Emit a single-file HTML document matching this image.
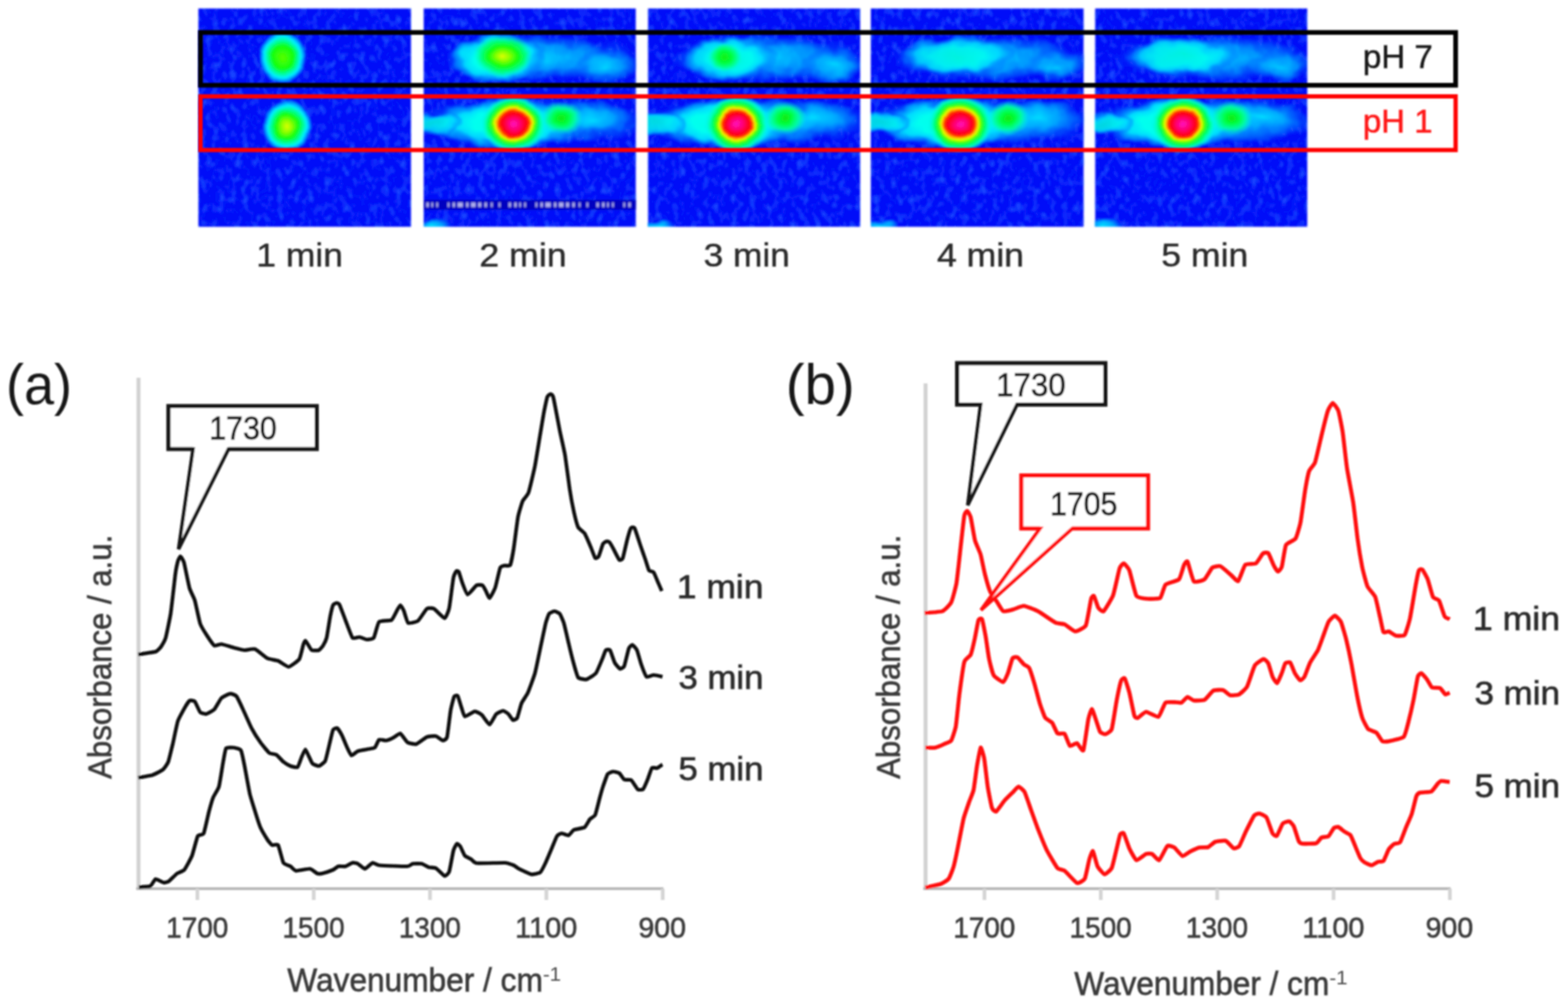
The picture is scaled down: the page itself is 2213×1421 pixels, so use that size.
<!DOCTYPE html>
<html lang="en"><head><meta charset="utf-8"><title>FTIR imaging figure</title>
<style>
html,body{margin:0;padding:0;background:#fff;}
body{width:2213px;height:1421px;overflow:hidden;}
svg{display:block;}
text{font-family:"Liberation Sans",sans-serif;}
</style></head><body>
<svg width="2213" height="1421" viewBox="0 0 2213 1421">
<defs>
<radialGradient id="gG"><stop offset="0" stop-color="#58ff00"/><stop offset="0.42" stop-color="#10ff10"/><stop offset="0.6" stop-color="#00ff90"/><stop offset="0.76" stop-color="#00f0ff"/><stop offset="0.88" stop-color="#00a0ff" stop-opacity="0.85"/><stop offset="1" stop-color="#0040ff" stop-opacity="0"/></radialGradient>
<radialGradient id="gY"><stop offset="0" stop-color="#d8ff00"/><stop offset="0.2" stop-color="#90ff00"/><stop offset="0.45" stop-color="#10ff10"/><stop offset="0.63" stop-color="#00ff90"/><stop offset="0.78" stop-color="#00f0ff"/><stop offset="0.9" stop-color="#00a0ff" stop-opacity="0.8"/><stop offset="1" stop-color="#0040ff" stop-opacity="0"/></radialGradient>
<radialGradient id="gY2"><stop offset="0" stop-color="#e0ff00"/><stop offset="0.22" stop-color="#90ff00"/><stop offset="0.5" stop-color="#10ff10"/><stop offset="0.75" stop-color="#00ff80" stop-opacity="0.9"/><stop offset="1" stop-color="#00ffd0" stop-opacity="0"/></radialGradient>
<radialGradient id="gG2"><stop offset="0" stop-color="#10f010"/><stop offset="0.4" stop-color="#00ff40"/><stop offset="0.7" stop-color="#00ff90" stop-opacity="0.9"/><stop offset="1" stop-color="#00ffd0" stop-opacity="0"/></radialGradient>
<radialGradient id="gR"><stop offset="0" stop-color="#ff10c0"/><stop offset="0.2" stop-color="#ff0070"/><stop offset="0.38" stop-color="#ff0010"/><stop offset="0.46" stop-color="#ff3000"/><stop offset="0.52" stop-color="#ffb000"/><stop offset="0.57" stop-color="#e0ff00"/><stop offset="0.64" stop-color="#50ff00"/><stop offset="0.74" stop-color="#00ff50"/><stop offset="0.86" stop-color="#00ffc0" stop-opacity="0.95"/><stop offset="1" stop-color="#00f0ff" stop-opacity="0"/></radialGradient>
<radialGradient id="gS"><stop offset="0" stop-color="#10e810"/><stop offset="0.35" stop-color="#00ff40"/><stop offset="0.65" stop-color="#00ffa0" stop-opacity="0.95"/><stop offset="1" stop-color="#00ffe0" stop-opacity="0"/></radialGradient>
<radialGradient id="gC"><stop offset="0" stop-color="#00ffd8"/><stop offset="0.45" stop-color="#00fff0"/><stop offset="0.68" stop-color="#00e0ff" stop-opacity="0.95"/><stop offset="0.85" stop-color="#0090ff" stop-opacity="0.7"/><stop offset="1" stop-color="#0040ff" stop-opacity="0"/></radialGradient>
<radialGradient id="gC2"><stop offset="0" stop-color="#00e4ff" stop-opacity="1"/><stop offset="0.5" stop-color="#00b4ff" stop-opacity="0.88"/><stop offset="0.8" stop-color="#0070ff" stop-opacity="0.55"/><stop offset="1" stop-color="#0040ff" stop-opacity="0"/></radialGradient>
<filter id="noise" x="0" y="0" width="100%" height="100%" color-interpolation-filters="sRGB"><feTurbulence type="fractalNoise" baseFrequency="0.12 0.08" numOctaves="2" seed="7" result="t"/><feColorMatrix in="t" type="matrix" values="0 0 0 0 0.08  0 0 0 0 0.27  0 0 0 0 1  3 0 0 0 -1.38"/></filter>
<filter id="wob" x="-5%" y="-5%" width="110%" height="110%" color-interpolation-filters="sRGB"><feTurbulence type="fractalNoise" baseFrequency="0.035 0.05" numOctaves="2" seed="11" result="n"/><feDisplacementMap in="SourceGraphic" in2="n" scale="16" xChannelSelector="R" yChannelSelector="G"/></filter>
<filter id="wob2" x="-5%" y="-5%" width="110%" height="110%" color-interpolation-filters="sRGB"><feTurbulence type="fractalNoise" baseFrequency="0.04 0.05" numOctaves="1" seed="3" result="n"/><feDisplacementMap in="SourceGraphic" in2="n" scale="5" xChannelSelector="R" yChannelSelector="G"/></filter>
<filter id="soft"><feGaussianBlur stdDeviation="1.0"/></filter>
<filter id="soft2"><feGaussianBlur stdDeviation="1.6"/></filter>

<clipPath id="cp0"><rect x="280" y="12" width="300" height="308"/></clipPath>
<clipPath id="cp1"><rect x="598" y="12" width="299.5" height="308"/></clipPath>
<clipPath id="cp2"><rect x="914.5" y="12" width="299.5" height="308"/></clipPath>
<clipPath id="cp3"><rect x="1229" y="12" width="300.5" height="308"/></clipPath>
<clipPath id="cp4"><rect x="1545.5" y="12" width="299.5" height="308"/></clipPath>
</defs>
<rect width="2213" height="1421" fill="#ffffff"/>
<g filter="url(#soft2)">
<g clip-path="url(#cp0)">
<rect x="280" y="12" width="300" height="308" fill="#0008f8"/>
<rect x="280" y="12" width="300" height="308" filter="url(#noise)"/>
<g filter="url(#wob)">
</g>
<g filter="url(#wob2)">
<ellipse cx="399" cy="81" rx="34" ry="38" fill="url(#gG)" opacity="1"/>
<ellipse cx="405" cy="178" rx="35" ry="38" fill="url(#gY)" opacity="1"/>
</g>
</g>
<g clip-path="url(#cp1)">
<rect x="598" y="12" width="299.5" height="308" fill="#0008f8"/>
<rect x="598" y="12" width="299.5" height="308" filter="url(#noise)"/>
<g filter="url(#wob)">
<ellipse cx="763" cy="82" rx="140" ry="33" fill="url(#gC2)" opacity="0.9"/>
<ellipse cx="856" cy="93" rx="48" ry="24" fill="url(#gC2)" opacity="0.9"/>
<ellipse cx="701" cy="82" rx="70" ry="36" fill="url(#gC)" opacity="1"/>
<ellipse cx="748" cy="172" rx="175" ry="34" fill="url(#gC2)" opacity="0.9"/>
<ellipse cx="713" cy="174" rx="102" ry="35" fill="url(#gC)" opacity="1"/>
<ellipse cx="610" cy="174" rx="44" ry="16" fill="url(#gC)" opacity="0.8"/>
<ellipse cx="835" cy="166" rx="62" ry="25" fill="url(#gC2)" opacity="0.9"/>
<ellipse cx="612" cy="319" rx="26" ry="9" fill="url(#gC2)" opacity="1"/>
</g>
<g filter="url(#wob2)">
<ellipse cx="710" cy="79" rx="42" ry="30" fill="url(#gY2)" opacity="1"/>
<ellipse cx="793" cy="167" rx="30" ry="24" fill="url(#gS)" opacity="1"/>
<ellipse cx="725" cy="175" rx="46" ry="40" fill="url(#gR)" opacity="1"/>
</g>
<rect x="598" y="282" width="299.5" height="14" fill="#0606c0"/>
<line x1="600" y1="289" x2="893.5" y2="289" stroke="#f0f0ff" stroke-width="6" stroke-dasharray="3 4 2 5 2 14 2 5 3 4 7 5 3 4 6 4 4 5 3 6 2 9 2 12 3 5" stroke-dashoffset="-2" opacity="0.72"/>
</g>
<g clip-path="url(#cp2)">
<rect x="914.5" y="12" width="299.5" height="308" fill="#0008f8"/>
<rect x="914.5" y="12" width="299.5" height="308" filter="url(#noise)"/>
<g filter="url(#wob)">
<ellipse cx="1079.5" cy="82" rx="140" ry="33" fill="url(#gC2)" opacity="0.9"/>
<ellipse cx="1176.5" cy="93" rx="48" ry="24" fill="url(#gC2)" opacity="0.9"/>
<ellipse cx="1029.5" cy="82" rx="68" ry="33" fill="url(#gC)" opacity="0.92"/>
<ellipse cx="1064.5" cy="172" rx="175" ry="34" fill="url(#gC2)" opacity="0.9"/>
<ellipse cx="1028.0" cy="174" rx="102" ry="35" fill="url(#gC)" opacity="1"/>
<ellipse cx="926.5" cy="174" rx="44" ry="16" fill="url(#gC)" opacity="0.8"/>
<ellipse cx="1150.0" cy="166" rx="62" ry="25" fill="url(#gC2)" opacity="0.9"/>
<ellipse cx="928.5" cy="319" rx="26" ry="9" fill="url(#gC2)" opacity="1"/>
</g>
<g filter="url(#wob2)">
<ellipse cx="1022.5" cy="81" rx="24" ry="21" fill="url(#gG2)" opacity="1"/>
<ellipse cx="1108.0" cy="167" rx="30" ry="24" fill="url(#gS)" opacity="1"/>
<ellipse cx="1040.0" cy="175" rx="46" ry="40" fill="url(#gR)" opacity="1"/>
</g>
</g>
<g clip-path="url(#cp3)">
<rect x="1229" y="12" width="300.5" height="308" fill="#0008f8"/>
<rect x="1229" y="12" width="300.5" height="308" filter="url(#noise)"/>
<g filter="url(#wob)">
<ellipse cx="1394" cy="82" rx="140" ry="33" fill="url(#gC2)" opacity="0.9"/>
<ellipse cx="1491" cy="93" rx="45" ry="22" fill="url(#gC2)" opacity="0.8"/>
<ellipse cx="1351" cy="79" rx="82" ry="28" fill="url(#gC)" opacity="0.85"/>
<ellipse cx="1379" cy="172" rx="175" ry="34" fill="url(#gC2)" opacity="0.9"/>
<ellipse cx="1343" cy="174" rx="102" ry="35" fill="url(#gC)" opacity="1"/>
<ellipse cx="1241" cy="174" rx="44" ry="16" fill="url(#gC)" opacity="0.8"/>
<ellipse cx="1465" cy="166" rx="62" ry="25" fill="url(#gC2)" opacity="0.9"/>
<ellipse cx="1243" cy="319" rx="26" ry="9" fill="url(#gC2)" opacity="1"/>
</g>
<g filter="url(#wob2)">
<ellipse cx="1423" cy="167" rx="30" ry="24" fill="url(#gS)" opacity="1"/>
<ellipse cx="1355" cy="175" rx="46" ry="40" fill="url(#gR)" opacity="1"/>
</g>
</g>
<g clip-path="url(#cp4)">
<rect x="1545.5" y="12" width="299.5" height="308" fill="#0008f8"/>
<rect x="1545.5" y="12" width="299.5" height="308" filter="url(#noise)"/>
<g filter="url(#wob)">
<ellipse cx="1710.5" cy="82" rx="140" ry="33" fill="url(#gC2)" opacity="0.9"/>
<ellipse cx="1807.5" cy="93" rx="45" ry="22" fill="url(#gC2)" opacity="0.8"/>
<ellipse cx="1667.5" cy="79" rx="82" ry="28" fill="url(#gC)" opacity="0.85"/>
<ellipse cx="1695.5" cy="172" rx="175" ry="34" fill="url(#gC2)" opacity="0.9"/>
<ellipse cx="1658.0" cy="174" rx="102" ry="35" fill="url(#gC)" opacity="1"/>
<ellipse cx="1557.5" cy="174" rx="44" ry="16" fill="url(#gC)" opacity="0.8"/>
<ellipse cx="1780.0" cy="166" rx="62" ry="25" fill="url(#gC2)" opacity="0.9"/>
<ellipse cx="1559.5" cy="319" rx="26" ry="9" fill="url(#gC2)" opacity="1"/>
</g>
<g filter="url(#wob2)">
<ellipse cx="1738.0" cy="167" rx="30" ry="24" fill="url(#gS)" opacity="1"/>
<ellipse cx="1670.0" cy="175" rx="46" ry="40" fill="url(#gR)" opacity="1"/>
</g>
</g>
</g>
<g filter="url(#soft)">
<rect x="283" y="45.8" width="1771.4" height="74.5" fill="none" stroke="#000000" stroke-width="6.6"/>
<rect x="283" y="136" width="1771.4" height="75.7" fill="none" stroke="#ff0000" stroke-width="6"/>
</g>
<g filter="url(#soft)">
<text x="361.7" y="376.2" font-size="46" fill="#2a2a2a" stroke="#2a2a2a" stroke-width="0.55" textLength="122.3" lengthAdjust="spacingAndGlyphs">1 min</text>
<text x="676.6" y="376.2" font-size="46" fill="#2a2a2a" stroke="#2a2a2a" stroke-width="0.55" textLength="123.2" lengthAdjust="spacingAndGlyphs">2 min</text>
<text x="992.9" y="376.2" font-size="46" fill="#2a2a2a" stroke="#2a2a2a" stroke-width="0.55" textLength="121.9" lengthAdjust="spacingAndGlyphs">3 min</text>
<text x="1322.4" y="376.2" font-size="46" fill="#2a2a2a" stroke="#2a2a2a" stroke-width="0.55" textLength="122.9" lengthAdjust="spacingAndGlyphs">4 min</text>
<text x="1638.9" y="376.2" font-size="46" fill="#2a2a2a" stroke="#2a2a2a" stroke-width="0.55" textLength="122.9" lengthAdjust="spacingAndGlyphs">5 min</text>
<text x="1923.4" y="95.9" font-size="46" fill="#181818" stroke="#181818" stroke-width="0.55" textLength="98.8" lengthAdjust="spacingAndGlyphs">pH 7</text>
<text x="1923.4" y="186.9" font-size="46" fill="#ff1414" stroke="#ff1414" stroke-width="0.55" textLength="98.5" lengthAdjust="spacingAndGlyphs">pH 1</text>
<text x="8.6" y="569.5" font-size="79" fill="#141414" textLength="93.0" lengthAdjust="spacingAndGlyphs">(a)</text>
<text x="1109.0" y="570.0" font-size="79" fill="#141414" textLength="97.4" lengthAdjust="spacingAndGlyphs">(b)</text>
<line x1="195.5" y1="533" x2="195.5" y2="1255.5" stroke="#d2d2d2" stroke-width="5.6"/>
<line x1="192.2" y1="1254" x2="936.3" y2="1254" stroke="#b8b8b8" stroke-width="3.8"/>
<line x1="278.6" y1="1254" x2="278.6" y2="1270" stroke="#d4d4d4" stroke-width="5.2"/>
<text x="234.6" y="1323.3" font-size="40.5" fill="#3c3c3c" stroke="#3c3c3c" stroke-width="0.8" textLength="87.6" lengthAdjust="spacingAndGlyphs">1700</text>
<line x1="442.8" y1="1254" x2="442.8" y2="1270" stroke="#d4d4d4" stroke-width="5.2"/>
<text x="398.7" y="1323.3" font-size="40.5" fill="#3c3c3c" stroke="#3c3c3c" stroke-width="0.8" textLength="87.6" lengthAdjust="spacingAndGlyphs">1500</text>
<line x1="606.9" y1="1254" x2="606.9" y2="1270" stroke="#d4d4d4" stroke-width="5.2"/>
<text x="562.9" y="1323.3" font-size="40.5" fill="#3c3c3c" stroke="#3c3c3c" stroke-width="0.8" textLength="87.6" lengthAdjust="spacingAndGlyphs">1300</text>
<line x1="771.1" y1="1254" x2="771.1" y2="1270" stroke="#d4d4d4" stroke-width="5.2"/>
<text x="727.0" y="1323.3" font-size="40.5" fill="#3c3c3c" stroke="#3c3c3c" stroke-width="0.8" textLength="87.8" lengthAdjust="spacingAndGlyphs">1100</text>
<line x1="935.3" y1="1254" x2="935.3" y2="1270" stroke="#d4d4d4" stroke-width="5.2"/>
<text x="900.9" y="1323.3" font-size="40.5" fill="#3c3c3c" stroke="#3c3c3c" stroke-width="0.8" textLength="67.3" lengthAdjust="spacingAndGlyphs">900</text>
<text x="405.5" y="1398.8" font-size="46" fill="#3a3a3a" stroke="#3a3a3a" stroke-width="0.85" textLength="360.6" lengthAdjust="spacingAndGlyphs">Wavenumber / cm</text>
<text x="766.2" y="1383.5" font-size="27" fill="#4a4a4a" textLength="25.7" lengthAdjust="spacingAndGlyphs">-1</text>
<text transform="translate(157.2,1099.0) rotate(-90)" font-size="46" fill="#3a3a3a" stroke="#3a3a3a" stroke-width="0.85" textLength="344.4" lengthAdjust="spacingAndGlyphs">Absorbance / a.u.</text>
<line x1="1306.3" y1="541" x2="1306.3" y2="1255.5" stroke="#d2d2d2" stroke-width="5.6"/>
<line x1="1303.0" y1="1254" x2="2047.3" y2="1254" stroke="#b8b8b8" stroke-width="3.8"/>
<line x1="1389.4" y1="1254" x2="1389.4" y2="1270" stroke="#d4d4d4" stroke-width="5.2"/>
<text x="1345.4" y="1323.3" font-size="40.5" fill="#3c3c3c" stroke="#3c3c3c" stroke-width="0.8" textLength="87.6" lengthAdjust="spacingAndGlyphs">1700</text>
<line x1="1553.6" y1="1254" x2="1553.6" y2="1270" stroke="#d4d4d4" stroke-width="5.2"/>
<text x="1509.6" y="1323.3" font-size="40.5" fill="#3c3c3c" stroke="#3c3c3c" stroke-width="0.8" textLength="87.6" lengthAdjust="spacingAndGlyphs">1500</text>
<line x1="1717.9" y1="1254" x2="1717.9" y2="1270" stroke="#d4d4d4" stroke-width="5.2"/>
<text x="1673.8" y="1323.3" font-size="40.5" fill="#3c3c3c" stroke="#3c3c3c" stroke-width="0.8" textLength="87.6" lengthAdjust="spacingAndGlyphs">1300</text>
<line x1="1882.1" y1="1254" x2="1882.1" y2="1270" stroke="#d4d4d4" stroke-width="5.2"/>
<text x="1838.0" y="1323.3" font-size="40.5" fill="#3c3c3c" stroke="#3c3c3c" stroke-width="0.8" textLength="87.8" lengthAdjust="spacingAndGlyphs">1100</text>
<line x1="2046.3" y1="1254" x2="2046.3" y2="1270" stroke="#d4d4d4" stroke-width="5.2"/>
<text x="2011.9" y="1323.3" font-size="40.5" fill="#3c3c3c" stroke="#3c3c3c" stroke-width="0.8" textLength="67.3" lengthAdjust="spacingAndGlyphs">900</text>
<text x="1516.3" y="1404" font-size="46" fill="#3a3a3a" stroke="#3a3a3a" stroke-width="0.85" textLength="359.7" lengthAdjust="spacingAndGlyphs">Wavenumber / cm</text>
<text x="1876.2" y="1388.7" font-size="27" fill="#4a4a4a" textLength="25.7" lengthAdjust="spacingAndGlyphs">-1</text>
<text transform="translate(1270,1099.0) rotate(-90)" font-size="46" fill="#3a3a3a" stroke="#3a3a3a" stroke-width="0.85" textLength="344.4" lengthAdjust="spacingAndGlyphs">Absorbance / a.u.</text>
<path d="M195.0 923.5C196.0 923.4 206.1 921.8 208.0 921.5C209.9 921.2 218.6 920.1 220.0 919.5C221.4 918.9 226.0 914.5 227.0 913.0C228.0 911.5 232.7 903.6 233.8 900.0C234.8 896.4 240.0 871.8 241.0 865.0C242.0 858.2 246.8 815.5 247.5 810.0C248.2 804.5 250.5 793.9 251.0 792.0C251.5 790.1 254.0 785.1 254.5 785.0C255.0 784.9 257.6 789.2 258.0 790.0C258.4 790.8 259.3 792.0 260.0 795.0C260.7 798.0 266.4 826.1 267.5 830.0C268.6 833.9 273.9 843.8 275.0 847.5C276.1 851.2 281.2 876.2 282.5 880.0C283.8 883.8 291.0 895.2 292.5 897.5C294.0 899.8 301.0 910.1 302.5 911.0C304.0 911.9 310.4 908.8 312.5 909.0C314.6 909.2 327.6 913.4 330.0 914.0C332.4 914.6 342.8 917.4 345.0 917.5C347.2 917.6 357.6 915.1 360.0 916.0C362.4 916.9 375.1 927.8 377.5 929.0C379.9 930.2 390.2 931.6 392.5 932.5C394.8 933.4 405.2 941.2 407.5 941.0C409.8 940.8 421.0 932.3 422.5 930.0C424.0 927.7 427.4 912.0 428.0 910.0C428.6 908.0 430.5 904.0 431.0 904.0C431.5 904.0 434.3 909.0 435.0 910.0C435.7 911.0 438.9 916.9 440.0 917.5C441.1 918.1 448.8 918.0 450.0 917.5C451.2 917.0 455.2 912.3 456.0 911.0C456.8 909.7 460.2 903.1 461.0 900.0C461.8 896.9 465.3 873.5 466.0 870.0C466.7 866.5 469.4 855.4 470.0 854.0C470.6 852.6 473.8 851.1 474.5 851.0C475.2 850.9 478.0 851.2 479.0 853.0C480.0 854.8 486.1 871.5 487.5 875.0C488.9 878.5 496.0 898.2 497.5 900.0C499.0 901.8 506.0 898.8 507.5 899.0C509.0 899.2 516.0 902.4 517.5 902.5C519.0 902.6 526.2 901.9 527.5 900.0C528.8 898.1 533.1 879.4 535.0 877.5C536.9 875.6 550.6 876.2 552.5 875.0C554.4 873.8 559.1 863.6 560.0 862.0C560.9 860.4 564.2 854.0 565.0 854.0C565.8 854.0 569.2 860.1 570.0 862.0C570.8 863.9 574.5 878.0 576.0 879.0C577.5 880.0 588.0 877.5 590.0 876.0C592.0 874.5 600.8 860.3 602.5 859.0C604.2 857.7 610.6 858.0 612.5 859.0C614.4 860.0 625.9 872.6 627.5 872.5C629.1 872.4 633.1 862.3 634.0 858.0C634.9 853.7 639.2 818.9 640.0 815.0C640.8 811.1 643.4 806.6 644.0 806.0C644.6 805.4 646.9 805.8 647.5 807.0C648.1 808.2 651.6 820.1 652.5 822.5C653.4 824.9 658.5 838.7 660.0 839.0C661.5 839.3 670.9 827.0 672.5 826.0C674.1 825.0 680.1 825.5 681.0 826.0C681.9 826.5 684.2 831.1 685.0 832.5C685.8 833.9 690.0 844.3 691.0 844.0C692.0 843.7 697.9 832.2 699.0 829.0C700.1 825.8 705.0 803.3 706.0 801.0C707.0 798.7 711.0 798.3 712.0 798.0C713.0 797.7 719.0 799.3 720.0 797.5C721.0 795.7 724.2 779.1 725.0 774.0C725.8 768.9 730.1 735.0 731.0 730.0C731.9 725.0 736.4 710.1 737.5 707.5C738.6 704.9 744.7 698.8 746.0 695.0C747.3 691.2 753.8 663.7 755.0 657.5C756.2 651.3 761.5 618.3 762.5 612.5C763.5 606.7 767.2 583.9 768.0 580.0C768.8 576.1 771.8 561.8 772.5 560.0C773.2 558.2 776.4 555.9 777.0 556.0C777.6 556.1 780.0 557.1 781.0 561.0C782.0 564.9 788.8 601.4 790.0 607.5C791.2 613.6 796.5 636.3 797.5 642.5C798.5 648.7 803.1 684.0 804.0 690.0C804.9 696.0 809.1 718.5 810.0 722.5C810.9 726.5 814.9 741.8 816.0 744.0C817.1 746.2 823.6 750.4 825.0 752.5C826.4 754.6 832.9 769.9 834.0 772.5C835.1 775.1 839.2 786.6 840.0 787.5C840.8 788.4 844.2 786.5 845.0 785.0C845.8 783.5 850.2 769.1 851.0 767.5C851.8 765.9 855.3 764.2 856.0 764.0C856.7 763.8 859.2 764.2 860.0 765.0C860.8 765.8 865.0 773.1 866.0 775.0C867.0 776.9 873.0 789.1 874.0 790.0C875.0 790.9 878.2 789.6 879.0 787.5C879.8 785.4 884.2 765.6 885.0 762.5C885.8 759.4 889.4 747.4 890.0 746.0C890.6 744.6 892.5 744.0 893.0 744.0C893.5 744.0 895.2 744.0 896.0 746.0C896.8 748.0 902.9 766.7 904.0 770.0C905.1 773.3 910.1 787.4 911.0 790.0C911.9 792.6 915.1 803.7 916.0 805.0C916.9 806.3 921.5 806.2 922.5 807.5C923.5 808.8 928.1 820.5 929.0 822.5C929.9 824.5 933.6 833.1 934.0 834.0" fill="none" stroke="#101010" stroke-width="5.2" stroke-linejoin="round" stroke-linecap="butt"/>
<path d="M195.0 1097.5C196.5 1097.2 212.4 1094.6 215.0 1093.8C217.6 1092.9 228.3 1087.4 230.0 1086.0C231.7 1084.6 236.5 1077.7 237.5 1075.0C238.5 1072.3 242.7 1054.3 243.8 1050.0C244.8 1045.7 249.8 1021.2 251.0 1017.5C252.2 1013.8 258.8 1002.2 260.0 1000.0C261.2 997.8 266.4 989.5 267.5 988.8C268.6 988.0 273.9 988.8 275.0 990.0C276.1 991.2 281.3 1003.7 282.5 1005.0C283.7 1006.3 289.5 1007.8 291.0 1007.5C292.5 1007.2 300.9 1002.7 302.5 1001.0C304.1 999.3 310.8 986.7 312.5 985.0C314.2 983.3 323.4 978.9 325.0 978.8C326.6 978.6 332.4 980.9 333.8 982.5C335.1 984.1 340.9 996.6 342.5 1000.0C344.1 1003.4 353.1 1023.9 355.0 1027.5C356.9 1031.1 365.6 1044.9 367.5 1047.5C369.4 1050.1 378.3 1061.2 380.0 1062.5C381.7 1063.8 388.5 1064.1 390.0 1065.0C391.5 1065.9 398.5 1073.8 400.0 1075.0C401.5 1076.2 408.5 1080.4 410.0 1081.0C411.5 1081.6 418.8 1083.5 420.0 1082.5C421.2 1081.5 425.2 1069.4 426.0 1067.5C426.8 1065.6 430.2 1057.5 431.0 1057.5C431.8 1057.5 435.2 1066.0 436.0 1067.5C436.8 1069.0 439.9 1076.5 441.0 1077.5C442.1 1078.5 448.6 1081.3 450.0 1081.0C451.4 1080.7 457.9 1076.1 459.0 1073.8C460.1 1071.4 464.2 1053.3 465.0 1050.0C465.8 1046.7 469.2 1031.7 470.0 1030.0C470.8 1028.3 475.1 1026.9 476.0 1027.5C476.9 1028.1 481.4 1035.4 482.5 1037.5C483.6 1039.6 489.0 1052.9 490.0 1055.0C491.0 1057.1 494.9 1065.6 496.0 1066.0C497.1 1066.4 503.4 1060.6 505.0 1060.0C506.6 1059.4 515.7 1057.9 517.5 1057.5C519.3 1057.1 527.7 1056.0 529.0 1055.0C530.3 1054.0 533.8 1044.5 535.0 1043.8C536.2 1043.0 543.5 1045.2 545.0 1045.0C546.5 1044.8 553.5 1041.8 555.0 1041.0C556.5 1040.2 563.5 1034.5 565.0 1035.0C566.5 1035.5 573.3 1046.4 575.0 1047.5C576.7 1048.6 585.4 1050.6 587.5 1050.0C589.6 1049.4 600.4 1040.8 602.5 1040.0C604.6 1039.2 613.3 1038.4 615.0 1038.8C616.7 1039.1 623.8 1044.9 625.0 1045.0C626.2 1045.1 630.2 1043.2 631.0 1040.0C631.8 1036.8 635.2 1006.8 636.0 1002.5C636.8 998.2 640.2 984.5 641.0 983.0C641.8 981.5 645.2 980.9 646.0 982.0C646.8 983.1 650.2 995.3 651.0 997.5C651.8 999.7 654.6 1010.5 656.0 1011.0C657.4 1011.5 668.2 1003.9 670.0 1003.8C671.8 1003.6 678.4 1007.3 680.0 1008.8C681.6 1010.2 689.5 1022.6 691.0 1022.5C692.5 1022.4 698.6 1009.5 700.0 1008.0C701.4 1006.5 708.7 1003.0 710.0 1003.0C711.3 1003.0 716.5 1006.5 717.5 1007.5C718.5 1008.5 723.1 1015.6 724.0 1016.0C724.9 1016.4 729.1 1014.8 730.0 1013.0C730.9 1011.2 734.9 995.2 736.0 992.5C737.1 989.8 743.6 980.7 745.0 977.5C746.4 974.3 753.7 954.7 755.0 950.0C756.3 945.3 761.4 920.2 762.5 915.0C763.6 909.8 769.1 883.7 770.0 880.0C770.9 876.3 774.1 867.3 775.0 866.0C775.9 864.7 781.4 862.5 782.5 862.5C783.6 862.5 789.0 864.7 790.0 866.0C791.0 867.3 795.1 876.9 796.0 880.0C796.9 883.1 801.5 903.2 802.5 907.5C803.5 911.8 809.0 933.9 810.0 937.5C811.0 941.1 814.7 954.4 816.0 956.0C817.3 957.6 825.6 959.2 827.5 958.8C829.4 958.3 839.3 952.2 841.0 950.0C842.7 947.8 849.0 932.4 850.0 930.0C851.0 927.6 854.2 918.4 855.0 917.5C855.8 916.6 860.1 916.2 861.0 917.5C861.9 918.8 866.5 933.0 867.5 935.0C868.5 937.0 874.0 943.4 875.0 943.8C876.0 944.1 880.1 942.2 881.0 940.0C881.9 937.8 886.6 917.2 887.5 915.0C888.4 912.8 891.6 909.8 892.5 910.0C893.4 910.2 898.1 915.4 899.0 917.5C899.9 919.6 904.0 934.7 905.0 937.5C906.0 940.3 911.2 953.9 912.5 955.0C913.8 956.1 920.8 952.5 922.5 952.5C924.2 952.5 934.1 954.8 935.0 955.0" fill="none" stroke="#101010" stroke-width="5.2" stroke-linejoin="round" stroke-linecap="butt"/>
<path d="M196.0 1251.8C197.2 1251.7 210.2 1251.3 212.0 1250.5C213.8 1249.7 218.1 1240.9 219.5 1240.5C220.9 1240.1 229.6 1245.3 231.0 1245.5C232.4 1245.7 236.6 1244.7 238.0 1243.8C239.4 1242.8 248.3 1233.7 250.0 1232.5C251.7 1231.3 258.4 1229.4 260.0 1227.5C261.6 1225.6 269.6 1211.1 271.0 1207.5C272.4 1203.9 277.8 1182.4 279.0 1180.0C280.2 1177.6 286.3 1178.6 287.5 1176.0C288.7 1173.4 294.0 1148.8 295.0 1145.0C296.0 1141.2 299.9 1127.6 301.0 1125.0C302.1 1122.4 307.9 1113.8 309.0 1110.0C310.1 1106.2 314.2 1079.0 315.0 1075.0C315.8 1071.0 317.9 1057.5 319.0 1056.0C320.1 1054.5 328.4 1054.8 330.0 1055.0C331.6 1055.2 338.9 1056.9 340.0 1058.8C341.1 1060.6 344.1 1075.4 345.0 1080.0C345.9 1084.6 351.4 1115.1 352.5 1120.0C353.6 1124.9 358.9 1141.4 360.0 1145.0C361.1 1148.6 366.2 1164.5 367.5 1167.5C368.8 1170.5 376.3 1183.1 377.5 1185.0C378.7 1186.9 382.9 1191.9 384.0 1192.5C385.1 1193.1 391.3 1190.6 392.5 1192.5C393.7 1194.4 398.7 1215.2 400.0 1217.5C401.3 1219.8 408.7 1221.7 410.0 1222.5C411.3 1223.3 415.4 1228.5 417.5 1228.8C419.6 1229.0 435.2 1225.7 437.5 1226.0C439.8 1226.3 446.2 1232.0 447.5 1232.5C448.8 1233.0 453.3 1232.9 455.0 1232.5C456.7 1232.1 468.3 1228.2 470.0 1227.5C471.7 1226.8 476.2 1222.9 477.5 1222.5C478.8 1222.1 486.0 1222.9 487.5 1222.5C489.0 1222.1 496.2 1217.8 497.5 1217.5C498.8 1217.2 503.7 1218.1 505.0 1218.8C506.3 1219.4 513.4 1226.1 515.0 1226.0C516.6 1225.9 524.5 1217.9 526.0 1217.5C527.5 1217.1 531.3 1220.6 535.0 1221.0C538.7 1221.4 571.4 1222.7 575.0 1222.5C578.6 1222.3 581.0 1219.0 582.5 1218.8C584.0 1218.5 593.3 1218.4 595.0 1218.8C596.7 1219.1 603.5 1223.3 605.0 1223.8C606.5 1224.2 613.3 1224.1 615.0 1225.0C616.7 1225.9 626.1 1235.6 627.5 1236.0C628.9 1236.4 633.1 1232.7 634.0 1230.0C634.9 1227.3 639.2 1203.0 640.0 1200.0C640.8 1197.0 644.2 1190.9 645.0 1190.5C645.8 1190.1 649.2 1193.7 650.0 1195.0C650.8 1196.3 654.9 1206.2 656.0 1207.5C657.1 1208.8 663.8 1211.7 665.0 1212.5C666.2 1213.3 668.9 1217.6 672.5 1218.0C676.1 1218.4 708.6 1217.3 712.5 1217.5C716.4 1217.7 723.5 1220.4 725.0 1221.0C726.5 1221.6 730.6 1225.0 732.5 1226.0C734.4 1227.0 747.8 1233.4 750.0 1233.8C752.2 1234.1 761.0 1232.2 762.5 1231.0C764.0 1229.8 768.9 1219.8 770.0 1217.5C771.1 1215.2 776.3 1202.8 777.5 1200.0C778.7 1197.2 784.9 1181.8 786.0 1180.0C787.1 1178.2 791.3 1176.1 792.5 1176.0C793.7 1175.9 801.2 1179.1 802.5 1178.8C803.8 1178.4 808.3 1171.8 810.0 1171.0C811.7 1170.2 823.3 1168.6 825.0 1167.5C826.7 1166.4 831.4 1157.3 832.5 1156.0C833.6 1154.7 839.0 1152.1 840.0 1150.0C841.0 1147.9 845.2 1130.5 846.0 1127.5C846.8 1124.5 850.1 1112.6 851.0 1110.0C851.9 1107.4 856.5 1094.1 857.5 1092.5C858.5 1090.9 863.8 1088.9 865.0 1088.8C866.2 1088.6 872.8 1090.2 874.0 1091.0C875.2 1091.8 879.7 1099.2 881.0 1100.0C882.3 1100.8 889.6 1100.0 891.0 1101.0C892.4 1102.0 898.8 1112.8 900.0 1113.8C901.2 1114.7 906.5 1114.8 907.5 1113.8C908.5 1112.7 913.1 1102.2 914.0 1100.0C914.9 1097.8 919.0 1085.0 920.0 1083.8C921.0 1082.5 926.4 1084.1 927.5 1083.8C928.6 1083.4 934.4 1079.1 935.0 1078.8" fill="none" stroke="#101010" stroke-width="5.2" stroke-linejoin="round" stroke-linecap="butt"/>
<path d="M1305.0 865.0C1306.9 864.8 1327.2 863.6 1330.0 862.5C1332.8 861.4 1341.0 853.0 1342.5 850.0C1344.0 847.0 1349.0 828.5 1350.0 822.5C1351.0 816.5 1355.2 777.1 1356.0 770.0C1356.8 762.9 1360.3 731.2 1361.0 727.5C1361.7 723.8 1364.3 720.8 1365.0 721.0C1365.7 721.2 1369.2 726.9 1370.0 730.0C1370.8 733.1 1375.0 758.6 1376.0 762.5C1377.0 766.4 1383.0 778.9 1384.0 782.5C1385.0 786.1 1389.0 806.1 1390.0 810.0C1391.0 813.9 1396.2 832.0 1397.5 835.0C1398.8 838.0 1406.1 847.9 1407.5 850.0C1408.9 852.1 1414.3 861.8 1416.0 862.5C1417.7 863.2 1427.8 860.6 1430.0 860.0C1432.2 859.4 1442.4 854.8 1445.0 855.0C1447.6 855.2 1461.6 860.7 1465.0 862.5C1468.4 864.3 1487.2 877.4 1490.0 878.8C1492.8 880.1 1500.4 880.1 1502.5 881.0C1504.6 881.9 1515.2 890.9 1517.5 891.0C1519.8 891.1 1530.8 886.0 1532.5 882.5C1534.2 879.0 1539.1 848.1 1540.0 845.0C1540.9 841.9 1543.2 840.1 1544.0 841.0C1544.8 841.9 1549.0 855.9 1550.0 857.5C1551.0 859.1 1555.9 863.8 1557.5 862.5C1559.1 861.2 1569.3 844.5 1571.0 840.0C1572.7 835.5 1578.9 805.9 1580.0 802.5C1581.1 799.1 1585.0 794.8 1586.0 795.0C1587.0 795.2 1592.7 801.5 1594.0 805.0C1595.3 808.5 1602.0 838.0 1604.0 841.0C1606.0 844.0 1617.5 844.8 1620.0 845.0C1622.5 845.2 1635.6 845.2 1637.5 843.8C1639.4 842.2 1643.0 827.0 1645.0 825.0C1647.0 823.0 1662.0 819.6 1664.0 817.5C1666.0 815.4 1670.1 799.4 1671.0 797.5C1671.9 795.6 1675.0 790.8 1676.0 792.5C1677.0 794.2 1683.2 818.6 1685.0 820.5C1686.8 822.4 1698.0 819.0 1700.0 817.5C1702.0 816.0 1709.3 802.4 1711.0 801.0C1712.7 799.6 1720.5 798.2 1722.5 799.0C1724.5 799.8 1735.6 809.9 1737.5 811.5C1739.4 813.1 1746.0 821.1 1747.5 820.0C1749.0 818.9 1755.6 798.9 1757.5 797.0C1759.4 795.1 1770.6 796.2 1772.5 795.0C1774.4 793.8 1781.2 782.1 1782.5 781.0C1783.8 779.9 1788.9 779.3 1790.0 780.5C1791.1 781.7 1796.5 795.5 1797.5 797.5C1798.5 799.5 1802.6 806.3 1803.5 806.5C1804.4 806.7 1808.1 802.8 1809.0 800.0C1809.9 797.2 1813.5 772.0 1815.0 769.0C1816.5 766.0 1827.0 762.4 1828.5 760.0C1830.0 757.6 1834.5 742.1 1835.5 737.0C1836.5 731.9 1841.1 697.4 1842.0 692.0C1842.9 686.6 1846.5 668.0 1847.5 665.0C1848.5 662.0 1854.7 656.2 1856.0 652.5C1857.3 648.8 1863.7 620.4 1865.0 615.0C1866.3 609.6 1872.8 583.5 1874.0 580.0C1875.2 576.5 1879.9 568.8 1881.0 568.8C1882.1 568.8 1888.0 576.9 1889.0 580.0C1890.0 583.1 1894.1 604.0 1895.0 610.0C1895.9 616.0 1899.9 652.5 1901.0 660.0C1902.1 667.5 1908.9 702.5 1910.0 710.0C1911.1 717.5 1915.1 753.2 1916.0 760.0C1916.9 766.8 1921.5 794.9 1922.5 800.0C1923.5 805.1 1928.6 824.3 1930.0 827.5C1931.4 830.7 1939.7 839.3 1941.0 842.5C1942.3 845.7 1946.6 866.3 1947.5 870.0C1948.4 873.7 1951.6 890.4 1952.5 892.0C1953.4 893.6 1958.7 890.6 1960.0 891.0C1961.3 891.4 1968.3 896.6 1970.0 897.0C1971.7 897.4 1981.0 897.8 1982.5 896.0C1984.0 894.2 1988.9 877.5 1990.0 872.5C1991.1 867.5 1996.6 834.1 1997.5 829.0C1998.4 823.9 2001.8 806.9 2002.5 805.0C2003.2 803.1 2006.6 802.8 2007.5 803.8C2008.4 804.7 2013.9 814.6 2015.0 817.5C2016.1 820.4 2021.3 840.2 2022.5 842.5C2023.7 844.8 2029.8 845.4 2031.0 847.5C2032.2 849.6 2037.9 868.0 2039.0 870.0C2040.1 872.0 2045.5 873.5 2046.0 873.8" fill="none" stroke="#ff0c0c" stroke-width="5.6" stroke-linejoin="round" stroke-linecap="butt"/>
<path d="M1306.0 1055.0C1307.0 1055.0 1318.0 1055.4 1320.0 1055.0C1322.0 1054.6 1330.8 1050.8 1332.5 1050.0C1334.2 1049.2 1341.3 1046.9 1342.5 1045.0C1343.7 1043.1 1348.1 1029.9 1349.0 1025.0C1349.9 1020.1 1353.1 986.8 1354.0 980.0C1354.9 973.2 1359.8 938.2 1361.0 934.0C1362.2 929.8 1368.9 926.3 1370.0 923.8C1371.1 921.2 1375.2 903.7 1376.0 900.0C1376.8 896.3 1380.2 877.0 1381.0 875.0C1381.8 873.0 1385.2 872.1 1386.0 873.8C1386.8 875.4 1390.2 893.3 1391.0 897.5C1391.8 901.7 1395.1 925.8 1396.0 930.0C1396.9 934.2 1401.0 950.6 1402.5 953.0C1404.0 955.4 1414.5 962.7 1416.0 962.5C1417.5 962.3 1421.5 952.5 1422.5 950.0C1423.5 947.5 1428.0 930.7 1429.0 929.0C1430.0 927.3 1434.8 926.9 1436.0 927.5C1437.2 928.1 1443.8 936.4 1445.0 937.5C1446.2 938.6 1451.4 940.4 1452.5 942.5C1453.6 944.6 1458.9 961.2 1460.0 965.0C1461.1 968.8 1466.4 988.9 1467.5 992.5C1468.6 996.1 1473.7 1010.4 1475.0 1012.5C1476.3 1014.6 1483.7 1018.3 1485.0 1020.0C1486.3 1021.7 1491.2 1033.8 1492.5 1035.0C1493.8 1036.2 1501.2 1034.2 1502.5 1035.5C1503.8 1036.8 1508.7 1051.5 1510.0 1052.5C1511.3 1053.5 1518.6 1048.3 1520.0 1048.8C1521.4 1049.2 1527.8 1061.3 1529.0 1058.8C1530.2 1056.2 1535.1 1019.4 1536.0 1015.0C1536.9 1010.6 1540.2 1000.6 1541.0 1000.5C1541.8 1000.4 1545.1 1011.1 1546.0 1013.5C1546.9 1015.9 1551.5 1030.8 1552.5 1032.5C1553.5 1034.2 1558.8 1036.3 1560.0 1036.0C1561.2 1035.7 1567.8 1032.6 1569.0 1029.0C1570.2 1025.4 1575.0 993.7 1576.0 988.5C1577.0 983.3 1581.6 962.3 1582.5 960.0C1583.4 957.7 1586.6 956.2 1587.5 957.5C1588.4 958.8 1593.0 973.6 1594.0 977.5C1595.0 981.4 1600.1 1007.3 1601.0 1010.0C1601.9 1012.7 1604.8 1013.4 1606.0 1013.0C1607.2 1012.6 1615.3 1004.6 1617.5 1004.5C1619.7 1004.4 1632.9 1012.5 1635.0 1011.5C1637.1 1010.5 1643.1 993.0 1645.0 991.5C1646.9 990.0 1658.3 991.0 1660.0 991.0C1661.7 991.0 1666.3 992.1 1667.5 991.5C1668.7 990.9 1674.7 983.7 1676.0 983.5C1677.3 983.3 1683.2 988.2 1685.0 988.5C1686.8 988.8 1697.9 988.5 1700.0 987.5C1702.1 986.5 1710.5 975.5 1712.5 974.5C1714.5 973.5 1724.2 973.3 1726.0 973.8C1727.8 974.2 1734.3 980.5 1736.0 981.0C1737.7 981.5 1746.7 980.9 1748.5 980.0C1750.3 979.1 1758.3 972.1 1760.0 969.0C1761.7 965.9 1769.2 941.9 1771.0 939.0C1772.8 936.1 1782.1 930.2 1783.5 930.0C1784.9 929.8 1789.1 934.1 1790.0 936.0C1790.9 937.9 1795.1 952.9 1796.0 955.0C1796.9 957.1 1801.5 964.4 1802.5 964.0C1803.5 963.6 1808.1 952.1 1809.0 950.0C1809.9 947.9 1813.1 937.1 1814.0 936.0C1814.9 934.9 1820.0 934.0 1821.0 935.0C1822.0 936.0 1826.5 948.1 1827.5 950.0C1828.5 951.9 1834.0 959.6 1835.0 960.0C1836.0 960.4 1840.0 956.9 1841.0 955.0C1842.0 953.1 1847.6 937.8 1849.0 935.0C1850.4 932.2 1858.6 920.3 1860.0 917.5C1861.4 914.7 1866.4 900.5 1867.5 897.5C1868.6 894.5 1873.8 879.7 1875.0 877.5C1876.2 875.3 1882.7 868.8 1884.0 868.8C1885.3 868.8 1891.3 875.0 1892.5 877.5C1893.7 880.0 1898.9 898.0 1900.0 902.5C1901.1 907.0 1906.4 931.7 1907.5 937.5C1908.6 943.3 1913.9 974.4 1915.0 980.0C1916.1 985.6 1921.3 1008.8 1922.5 1012.5C1923.7 1016.2 1929.5 1027.2 1931.0 1028.8C1932.5 1030.3 1941.0 1032.5 1942.5 1033.8C1944.0 1035.0 1949.7 1045.1 1951.0 1046.0C1952.3 1046.9 1957.8 1046.5 1960.0 1046.0C1962.2 1045.5 1978.9 1042.0 1981.0 1040.0C1983.1 1038.0 1986.5 1023.9 1987.5 1020.0C1988.5 1016.1 1994.0 992.4 1995.0 987.5C1996.0 982.6 2000.2 957.8 2001.0 955.0C2001.8 952.2 2005.0 949.7 2006.0 950.0C2007.0 950.3 2012.9 957.2 2014.0 958.8C2015.1 960.2 2019.6 969.1 2021.0 970.0C2022.4 970.9 2031.1 970.2 2032.5 971.0C2033.9 971.8 2039.0 979.5 2040.0 980.0C2041.0 980.5 2045.5 977.7 2046.0 977.5" fill="none" stroke="#ff0c0c" stroke-width="5.6" stroke-linejoin="round" stroke-linecap="butt"/>
<path d="M1306.0 1252.5C1307.6 1252.1 1325.0 1248.4 1327.5 1247.5C1330.0 1246.6 1337.6 1241.9 1339.0 1240.0C1340.4 1238.1 1345.0 1226.1 1346.0 1222.5C1347.0 1218.9 1351.5 1197.6 1352.5 1192.5C1353.5 1187.4 1358.9 1159.5 1360.0 1155.0C1361.1 1150.5 1366.5 1135.5 1367.5 1132.5C1368.5 1129.5 1373.1 1118.9 1374.0 1115.0C1374.9 1111.1 1378.2 1084.5 1379.0 1080.0C1379.8 1075.5 1383.2 1055.8 1384.0 1055.0C1384.8 1054.2 1388.2 1065.9 1389.0 1070.0C1389.8 1074.1 1393.2 1104.8 1394.0 1110.0C1394.8 1115.2 1399.1 1137.4 1400.0 1140.0C1400.9 1142.6 1404.7 1145.8 1406.0 1145.0C1407.3 1144.2 1415.7 1132.1 1417.5 1130.0C1419.3 1127.9 1428.5 1119.0 1430.0 1117.5C1431.5 1116.0 1436.3 1110.0 1437.5 1110.0C1438.7 1110.0 1444.7 1115.1 1446.0 1117.5C1447.3 1119.9 1453.6 1138.6 1455.0 1142.5C1456.4 1146.4 1463.3 1165.7 1465.0 1170.0C1466.7 1174.3 1475.4 1195.9 1477.5 1200.0C1479.6 1204.1 1490.6 1222.8 1492.5 1225.0C1494.4 1227.2 1500.4 1227.2 1502.5 1228.8C1504.6 1230.3 1517.9 1245.2 1520.0 1246.0C1522.1 1246.8 1529.7 1242.5 1531.0 1240.0C1532.3 1237.5 1536.6 1215.4 1537.5 1212.5C1538.4 1209.6 1541.6 1200.2 1542.5 1201.0C1543.4 1201.8 1547.8 1220.0 1549.0 1222.5C1550.2 1225.0 1557.5 1233.6 1559.0 1233.8C1560.5 1233.9 1567.7 1227.7 1569.0 1225.0C1570.3 1222.3 1575.1 1201.1 1576.0 1197.5C1576.9 1193.9 1580.2 1179.1 1581.0 1177.5C1581.8 1175.9 1585.0 1174.5 1586.0 1176.0C1587.0 1177.5 1592.7 1194.7 1594.0 1197.5C1595.3 1200.3 1602.2 1213.2 1604.0 1213.8C1605.8 1214.3 1615.8 1205.7 1617.5 1205.0C1619.2 1204.3 1624.6 1204.3 1626.0 1205.0C1627.4 1205.7 1634.4 1214.6 1636.0 1213.8C1637.6 1212.9 1645.9 1195.1 1647.5 1193.8C1649.1 1192.4 1655.9 1194.9 1657.5 1196.0C1659.1 1197.1 1667.3 1207.6 1669.0 1208.0C1670.7 1208.4 1678.2 1202.4 1680.0 1201.5C1681.8 1200.6 1690.6 1196.5 1692.5 1196.0C1694.4 1195.5 1703.3 1196.1 1705.0 1195.5C1706.7 1194.9 1713.1 1188.7 1715.0 1188.0C1716.9 1187.3 1728.0 1185.8 1730.0 1186.5C1732.0 1187.2 1739.6 1196.4 1741.0 1197.0C1742.4 1197.6 1747.7 1195.8 1749.0 1194.0C1750.3 1192.2 1756.9 1176.2 1758.5 1173.0C1760.1 1169.8 1768.6 1152.9 1770.0 1151.0C1771.4 1149.1 1776.2 1147.8 1777.5 1148.0C1778.8 1148.2 1786.1 1151.4 1787.5 1153.5C1788.9 1155.6 1794.9 1174.0 1796.0 1176.0C1797.1 1178.0 1800.9 1180.5 1802.0 1179.5C1803.1 1178.5 1809.2 1163.5 1810.5 1162.0C1811.8 1160.5 1818.3 1158.7 1819.5 1159.0C1820.7 1159.3 1825.0 1163.9 1826.0 1166.0C1827.0 1168.1 1832.1 1185.2 1833.0 1187.0C1833.9 1188.8 1836.2 1190.3 1838.0 1190.5C1839.8 1190.7 1855.5 1190.6 1857.5 1190.0C1859.5 1189.4 1863.7 1182.8 1865.0 1182.0C1866.3 1181.2 1873.7 1181.0 1875.0 1180.0C1876.3 1179.0 1881.5 1169.5 1882.5 1168.5C1883.5 1167.5 1887.9 1166.6 1889.0 1167.0C1890.1 1167.4 1896.2 1172.6 1897.5 1173.5C1898.8 1174.4 1904.9 1177.0 1906.0 1178.5C1907.1 1180.0 1911.5 1191.1 1912.5 1193.5C1913.5 1195.9 1919.0 1209.2 1920.0 1211.0C1921.0 1212.8 1924.8 1216.2 1926.0 1217.0C1927.2 1217.8 1934.6 1221.1 1936.0 1221.0C1937.4 1220.9 1943.8 1216.5 1945.0 1216.0C1946.2 1215.5 1951.4 1216.3 1952.5 1215.0C1953.6 1213.7 1958.9 1200.3 1960.0 1198.5C1961.1 1196.7 1966.3 1191.8 1967.5 1191.0C1968.7 1190.2 1974.8 1190.2 1976.0 1188.5C1977.2 1186.8 1982.8 1171.5 1984.0 1168.5C1985.2 1165.5 1991.4 1151.9 1992.5 1148.5C1993.6 1145.1 1998.1 1125.8 1999.0 1123.5C1999.9 1121.2 2002.4 1119.0 2004.0 1118.5C2005.6 1118.0 2018.1 1117.9 2020.0 1117.0C2021.9 1116.1 2028.0 1107.1 2029.0 1106.0C2030.0 1104.9 2032.7 1102.2 2034.0 1102.0C2035.3 1101.8 2045.1 1103.4 2046.0 1103.5" fill="none" stroke="#ff0c0c" stroke-width="5.6" stroke-linejoin="round" stroke-linecap="butt"/>
<text x="955.3" y="844.4" font-size="46" fill="#2c2c2c" stroke="#2c2c2c" stroke-width="0.85" textLength="122.2" lengthAdjust="spacingAndGlyphs">1 min</text>
<text x="957.5" y="971.8" font-size="46" fill="#2c2c2c" stroke="#2c2c2c" stroke-width="0.85" textLength="119.9" lengthAdjust="spacingAndGlyphs">3 min</text>
<text x="957.5" y="1101.2" font-size="46" fill="#2c2c2c" stroke="#2c2c2c" stroke-width="0.85" textLength="119.9" lengthAdjust="spacingAndGlyphs">5 min</text>
<text x="2078.7" y="888.8" font-size="46" fill="#2c2c2c" stroke="#2c2c2c" stroke-width="0.85" textLength="123.1" lengthAdjust="spacingAndGlyphs">1 min</text>
<text x="2080.9" y="993.8" font-size="46" fill="#2c2c2c" stroke="#2c2c2c" stroke-width="0.85" textLength="120.8" lengthAdjust="spacingAndGlyphs">3 min</text>
<text x="2080.9" y="1125.0" font-size="46" fill="#2c2c2c" stroke="#2c2c2c" stroke-width="0.85" textLength="120.8" lengthAdjust="spacingAndGlyphs">5 min</text>
<path d="M237.7 573.2H447V633.6H322.5L252 775L272.5 633.6H237.7Z" fill="#ffffff" stroke="#141414" stroke-width="5" stroke-linejoin="miter"/><path d="M272.5 633.6H237.7V573.2H447V633.6H322.5" fill="none" stroke="#141414" stroke-width="5.8" stroke-linejoin="miter" stroke-linecap="butt"/>
<text x="295.2" y="620.4" font-size="46" fill="#1c1c1c" stroke="#1c1c1c" stroke-width="1.0" textLength="95.5" lengthAdjust="spacingAndGlyphs">1730</text>
<path d="M1350.8 512.5H1560V570.8H1435.4L1365.8 713L1384 570.8H1350.8Z" fill="#ffffff" stroke="#141414" stroke-width="5" stroke-linejoin="miter"/><path d="M1384 570.8H1350.8V512.5H1560V570.8H1435.4" fill="none" stroke="#141414" stroke-width="5.8" stroke-linejoin="miter" stroke-linecap="butt"/>
<text x="1405.9" y="559.0" font-size="46" fill="#1c1c1c" stroke="#1c1c1c" stroke-width="1.0" textLength="98.0" lengthAdjust="spacingAndGlyphs">1730</text>
<path d="M1441.5 671H1620.3V745.7H1513.3L1384.5 861L1468 745.7H1441.5Z" fill="#ffffff" stroke="#ff1010" stroke-width="5" stroke-linejoin="miter"/><path d="M1468 745.7H1441.5V671H1620.3V745.7H1513.3" fill="none" stroke="#ff1010" stroke-width="5.8" stroke-linejoin="miter" stroke-linecap="butt"/>
<text x="1481.9" y="726.5" font-size="46" fill="#1c1c1c" stroke="#1c1c1c" stroke-width="1.0" textLength="95.1" lengthAdjust="spacingAndGlyphs">1705</text>
</g>
</svg></body></html>
